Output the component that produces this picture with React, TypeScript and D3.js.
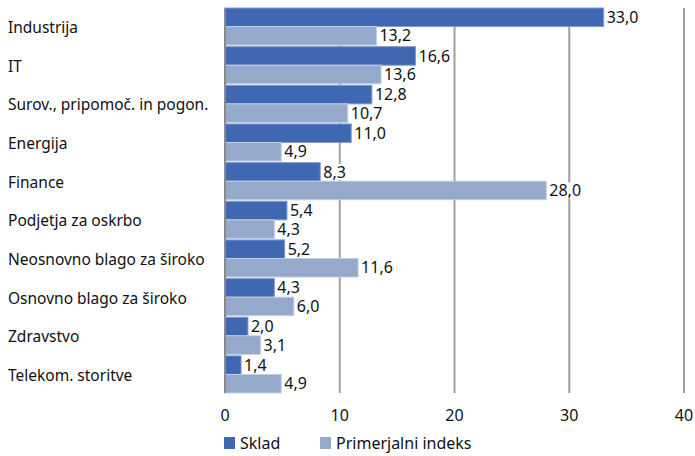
import React, { useEffect, useRef } from 'react';
import * as d3 from 'd3';

const categories = [
  'Industrija',
  'IT',
  'Surov., pripomoč. in pogon.',
  'Energija',
  'Finance',
  'Podjetja za oskrbo',
  'Neosnovno blago za široko',
  'Osnovno blago za široko',
  'Zdravstvo',
  'Telekom. storitve',
];
const sklad = [33.0, 16.6, 12.8, 11.0, 8.3, 5.4, 5.2, 4.3, 2.0, 1.4];
const indeks = [13.2, 13.6, 10.7, 4.9, 28.0, 4.3, 11.6, 6.0, 3.1, 4.9];
const seriesNames = ['Sklad', 'Primerjalni indeks'];
const xTicks = [0, 10, 20, 30, 40];

const width = 695;
const height = 456;
const margin = { top: 8, left: 225, right: 11, bottom: 63 };
const colors = ['#4068b2', '#95a9cb'];
const strokes = ['#7f9bd0', '#c3d0e4'];
const font = '"Noto Sans", sans-serif';

const App = () => {
  const ref = useRef<SVGSVGElement>(null);

  useEffect(() => {
    const svg = d3.select(ref.current);
    svg.selectAll('*').remove();

    const x = d3.scaleLinear().domain([0, 40]).range([margin.left, width - margin.right]);
    const y = d3
      .scaleBand<string>()
      .domain(categories)
      .range([margin.top, height - margin.bottom])
      .paddingInner(0.04)
      .paddingOuter(0);
    const inner = d3.scaleBand<number>().domain([0, 1]).range([0, y.bandwidth()]);

    // gridlines
    svg
      .append('g')
      .selectAll('line')
      .data(xTicks.slice(1))
      .join('line')
      .attr('x1', (d) => x(d))
      .attr('x2', (d) => x(d))
      .attr('y1', margin.top)
      .attr('y2', height - margin.bottom)
      .attr('stroke', '#a0a0a0')
      .attr('stroke-width', 2);

    const data = categories.flatMap((c, i) => [
      { c, s: 0, v: sklad[i] },
      { c, s: 1, v: indeks[i] },
    ]);

    svg
      .append('g')
      .selectAll('rect')
      .data(data)
      .join('rect')
      .attr('x', x(0))
      .attr('y', (d) => (y(d.c) || 0) + (inner(d.s) || 0))
      .attr('width', (d) => x(d.v) - x(0))
      .attr('height', inner.bandwidth())
      .attr('fill', (d) => colors[d.s])
      .attr('stroke', (d) => strokes[d.s])
      .attr('stroke-width', 1);

    // value labels with white background
    const labels = svg
      .append('g')
      .selectAll('g')
      .data(data)
      .join('g')
      .attr(
        'transform',
        (d) => `translate(${x(d.v) + 2},${(y(d.c) || 0) + (inner(d.s) || 0) + inner.bandwidth() / 2})`
      );
    labels
      .append('rect')
      .attr('x', 0)
      .attr('y', -8)
      .attr('width', 24)
      .attr('height', 16)
      .attr('fill', 'white');
    labels
      .append('text')
      .attr('x', 1)
      .attr('dy', '0.35em')
      .attr('font-family', font)
      .attr('font-size', 16)
      .attr('fill', '#111')
      .text((d) => d3.format('.1f')(d.v).replace('.', ','));

    // zero axis
    svg
      .append('line')
      .attr('x1', x(0))
      .attr('x2', x(0))
      .attr('y1', margin.top)
      .attr('y2', height - margin.bottom)
      .attr('stroke', '#8a8a8a')
      .attr('stroke-width', 2);

    // category labels
    svg
      .append('g')
      .selectAll('text')
      .data(categories)
      .join('text')
      .attr('x', 8)
      .attr('y', (d) => (y(d) || 0) + y.bandwidth() / 2 + 1)
      .attr('dy', '0.35em')
      .attr('font-family', font)
      .attr('font-size', 15.5)
      .attr('fill', '#111')
      .text((d) => d);

    // x tick labels
    svg
      .append('g')
      .selectAll('text')
      .data(xTicks)
      .join('text')
      .attr('x', (d) => x(d))
      .attr('y', 415)
      .attr('dy', '0.35em')
      .attr('text-anchor', 'middle')
      .attr('font-family', font)
      .attr('font-size', 16)
      .attr('fill', '#111')
      .text((d) => d);

    // legend
    const legendX = [224, 320];
    const legend = svg
      .append('g')
      .selectAll('g')
      .data(seriesNames)
      .join('g')
      .attr('transform', (_d, i) => `translate(${legendX[i]},443)`);
    legend
      .append('rect')
      .attr('x', 0)
      .attr('y', -6)
      .attr('width', 11)
      .attr('height', 12)
      .attr('fill', (_d, i) => colors[i]);
    legend
      .append('text')
      .attr('x', 16)
      .attr('dy', '0.35em')
      .attr('font-family', font)
      .attr('font-size', 16)
      .attr('fill', '#111')
      .text((d) => d);
  }, []);

  return (
    <svg
      ref={ref}
      width={width}
      height={height}
      style={{ position: 'absolute', left: 0, top: 0, background: 'white' }}
    />
  );
};

export default App;
